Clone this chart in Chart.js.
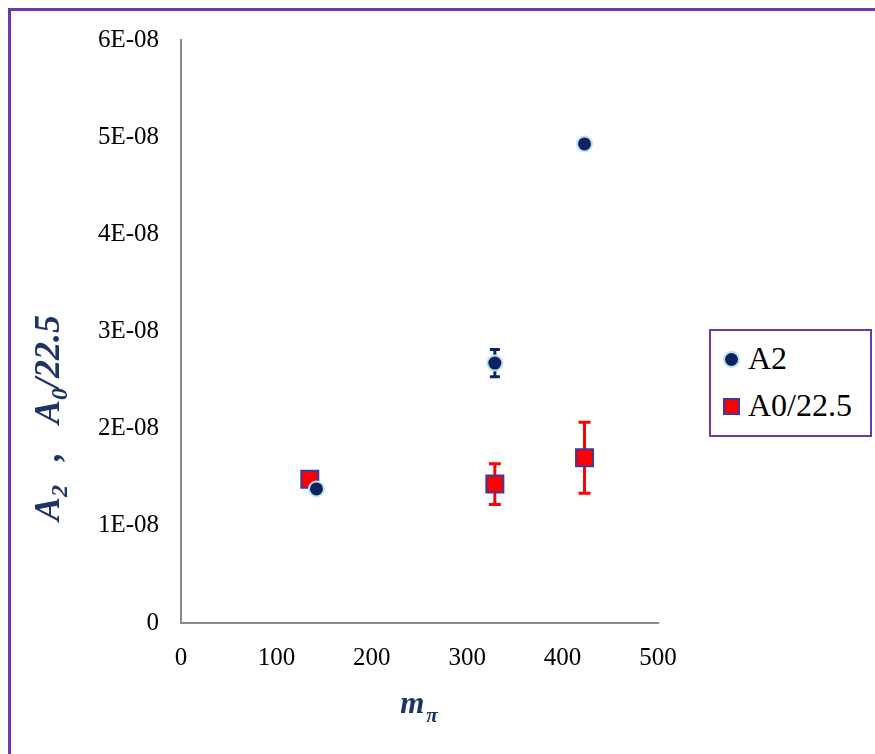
<!DOCTYPE html>
<html>
<head>
<meta charset="utf-8">
<script src="https://cdn.jsdelivr.net/npm/chart.js@4.4.1/dist/chart.umd.min.js"></script>
<style>
  html, body { margin: 0; padding: 0; background: #fff; }
  #wrap { position: relative; width: 875px; height: 754px; overflow: hidden; }
  #frame { position: absolute; left: 8px; top: 8px; width: 900px; height: 800px;
           border: 3px solid #7434b0; box-sizing: border-box; }
  canvas { position: absolute; left: 0; top: 0; }
  #legend { position: absolute; left: 709px; top: 329px; width: 163px; height: 108px;
            border: 2px solid #7434b0; box-sizing: border-box; background: #fff;
            font-family: "Liberation Serif", "Times New Roman", serif; font-size: 32px; color: #000; }
  .item { position: absolute; left: 12px; height: 34px; line-height: 34px; white-space: nowrap; }
  .mk { display: inline-block; vertical-align: middle; margin-right: 8px; box-sizing: border-box;
        position: relative; top: -2px; }
  .circ { width: 17px; height: 17px; border-radius: 50%; background: #0b2360; border: 2px solid #bfe3ea; }
  .sq { width: 17px; height: 17px; background: #ff0000; border: 2px solid #3a3aa0; }
</style>
</head>
<body>
<div id="wrap">
  <div id="frame"></div>
  <canvas id="chart" width="875" height="754"></canvas>
  <div id="legend">
    <div class="item" style="top:10px"><span class="mk circ"></span>A2</div>
    <div class="item" style="top:57px"><span class="mk sq"></span>A0/22.5</div>
  </div>
</div>
<script>
// data
const mPiA2 = [142, 329, 423];
const valA2 = [1.38e-8, 2.675e-8, 4.93e-8];
const errA2 = [0, 0.14e-8, 0];

const mPiA0 = [135, 329, 423];
const valA0 = [1.48e-8, 1.43e-8, 1.70e-8];
const errA0 = [0, 0.21e-8, 0.365e-8];

const xTicks = [0, 100, 200, 300, 400, 500];
const yTicks = ["0", "1E-08", "2E-08", "3E-08", "4E-08", "5E-08", "6E-08"];

const titleColor = "#1c3466";
const tickFont = { family: "Liberation Serif", size: 25 };

// error bars, drawn under the markers
const errorBars = {
  id: "errorBars",
  beforeDatasetsDraw(chart) {
    const ctx = chart.ctx;
    const xs = chart.scales.x, ys = chart.scales.y;
    chart.data.datasets.forEach(ds => {
      ds.data.forEach((p, i) => {
        const e = ds.err[i];
        if (!e) return;
        const px = xs.getPixelForValue(p.x);
        const top = ys.getPixelForValue(p.y + e);
        const bot = ys.getPixelForValue(p.y - e);
        ctx.save();
        ctx.strokeStyle = ds.errColor;
        ctx.lineWidth = 3;
        ctx.beginPath();
        ctx.moveTo(px, top); ctx.lineTo(px, bot);
        ctx.moveTo(px - ds.capW, top); ctx.lineTo(px + ds.capW, top);
        ctx.moveTo(px - ds.capW, bot); ctx.lineTo(px + ds.capW, bot);
        ctx.stroke();
        ctx.restore();
      });
    });
  }
};

// axis titles with subscripts (gap = extra space after a part)
function drawRich(ctx, parts, x, y, rotate) {
  ctx.save();
  ctx.translate(x, y);
  if (rotate) ctx.rotate(-Math.PI / 2);
  ctx.fillStyle = titleColor;
  ctx.textBaseline = "alphabetic";
  let total = 0;
  parts.forEach(p => { ctx.font = p.font; total += ctx.measureText(p.t).width + (p.gap || 0); });
  let cx = -total / 2;
  parts.forEach(p => {
    ctx.font = p.font;
    ctx.fillText(p.t, cx, p.dy || 0);
    cx += ctx.measureText(p.t).width + (p.gap || 0);
  });
  ctx.restore();
}

const axisTitles = {
  id: "axisTitles",
  afterDraw(chart) {
    const ctx = chart.ctx;
    const big = "italic bold 36px 'Liberation Serif'";
    const sub = "italic bold 24px 'Liberation Serif'";
    drawRich(ctx, [
      { t: "A", font: big },
      { t: "2", font: sub, dy: 8, gap: 24 },
      { t: ",", font: big, gap: 28 },
      { t: "A", font: big },
      { t: "0", font: sub, dy: 8 },
      { t: "/22.5", font: big }
    ], 59, 418, true);
    drawRich(ctx, [
      { t: "m", font: "italic bold 31px 'Liberation Serif'", gap: 2 },
      { t: "π", font: "italic bold 21px 'Liberation Serif'", dy: 9 }
    ], 419, 713, false);
  }
};

new Chart(document.getElementById("chart"), {
  type: "scatter",
  data: {
    datasets: [
      {
        label: "A2",
        data: mPiA2.map((x, i) => ({ x: x, y: valA2[i] })),
        err: errA2,
        errColor: "#0b2360",
        capW: 5,
        pointStyle: "circle",
        pointRadius: 7.5,
        pointHoverRadius: 7.5,
        backgroundColor: "#0b2360",
        borderColor: "#bfe3ea",
        borderWidth: 2
      },
      {
        label: "A0/22.5",
        data: mPiA0.map((x, i) => ({ x: x, y: valA0[i] })),
        err: errA0,
        errColor: "#ff0000",
        capW: 6,
        pointStyle: "rect",
        pointRadius: 12,
        pointHoverRadius: 12,
        backgroundColor: "#ff0000",
        borderColor: "#3a3aa0",
        borderWidth: 2
      }
    ]
  },
  options: {
    responsive: false,
    animation: false,
    events: [],
    layout: { padding: { left: 0, top: 40, right: 217, bottom: 0 } },
    plugins: { legend: { display: false }, tooltip: { enabled: false } },
    scales: {
      x: {
        type: "linear",
        min: 0, max: 500,
        afterBuildTicks: s => { s.ticks = xTicks.map(v => ({ value: v })); },
        afterFit: s => { s.height = 754 - 40 - 583; },
        grid: { display: false, drawTicks: false },
        border: { display: true, color: "#8a8a8a", width: 2 },
        ticks: { font: tickFont, color: "#000", padding: 20, maxRotation: 0 }
      },
      y: {
        type: "linear",
        min: 0, max: 6e-8,
        afterBuildTicks: s => { s.ticks = yTicks.map((t, i) => ({ value: i * 1e-8 })); },
        afterFit: s => { s.width = 181; },
        grid: { display: false, drawTicks: false },
        border: { display: true, color: "#8a8a8a", width: 2 },
        ticks: {
          font: tickFont, color: "#000", padding: 22,
          callback: (v, i) => yTicks[i]
        }
      }
    }
  },
  plugins: [errorBars, axisTitles]
});
</script>
</body>
</html>
